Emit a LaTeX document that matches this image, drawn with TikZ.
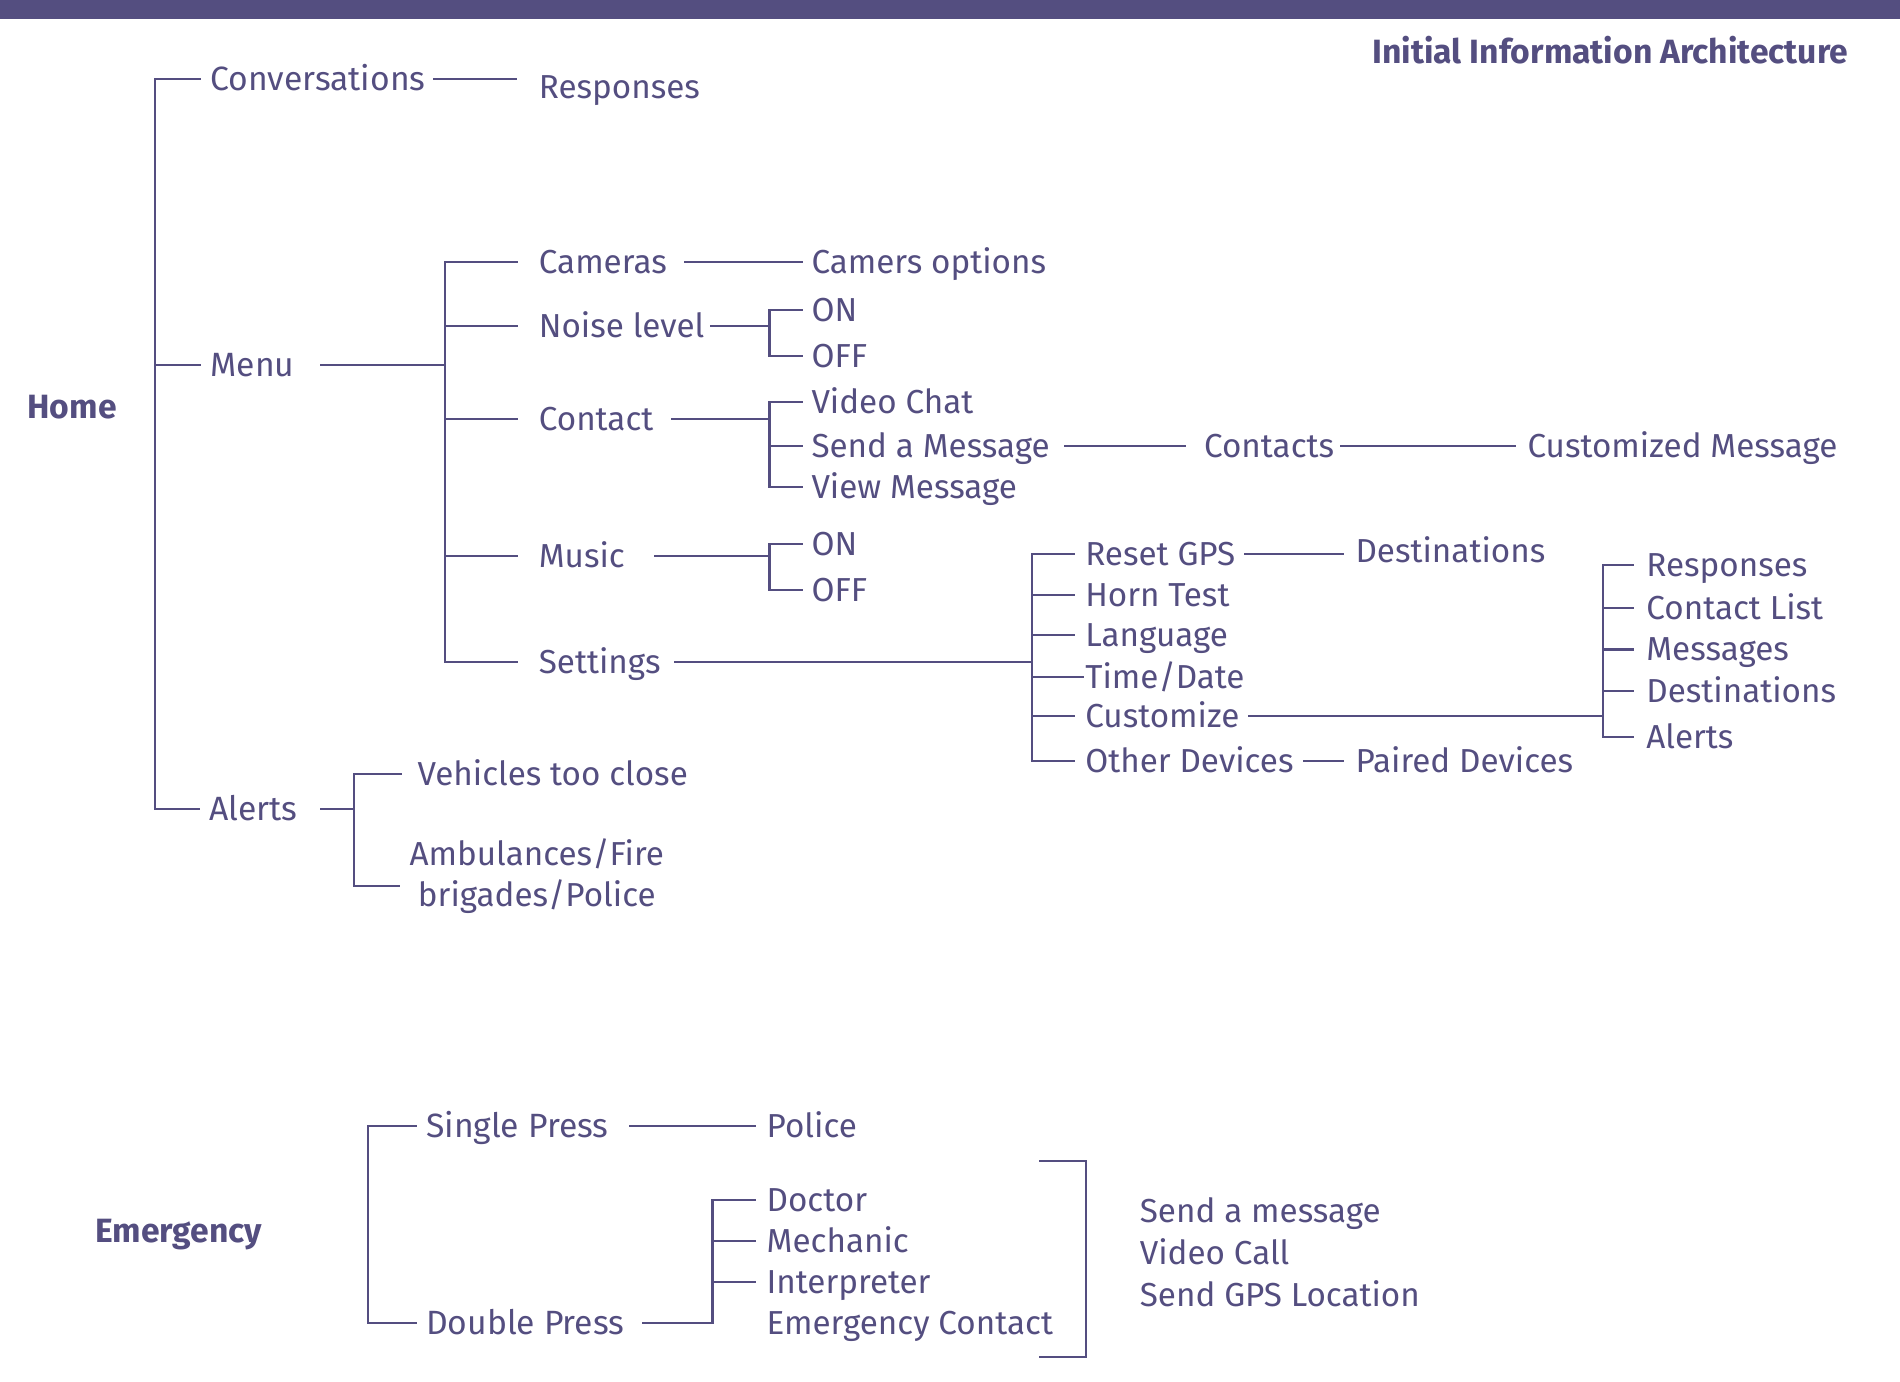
\documentclass[tikz,border=0pt]{standalone}
\usepackage{fontspec}
\setmainfont{Fira Sans}
\newfontfamily\headfont{Fira Sans}[UprightFont=* Bold]
\usetikzlibrary{positioning}
\definecolor{ink}{RGB}{84,78,128}

\begin{document}
\begin{tikzpicture}[x=0.01cm, y=-0.01cm,
  font=\fontsize{7.8pt}{9.7pt}\selectfont, text=ink,
  txt/.style={anchor=west, inner sep=0pt},
  leaf/.style={txt, text height=5.4pt, text depth=0pt},
  group/.style={leaf, font=\fontsize{7.9pt}{9.7pt}\selectfont},
  head/.style={leaf, font=\fontsize{7.9pt}{9.7pt}\headfont},
  link/.style={draw=ink, line width=0.5pt, line cap=rect}]
\useasboundingbox (0,0) rectangle (1568,1140);
\fill[ink] (0,0) rectangle (1568,16);
\node[head, anchor=east] (title) at (1526,43) {Initial Information Architecture};

% home
\node[head] (home) at (22,336) {Home};
\node[group] (conv) at (173,65) {Conversations};
\node[group] (menu) at (173,301) {Menu};
\node[group] (alerts) at (172,668) {Alerts};
\coordinate (homebar) at (128,0);
\draw[link] (homebar |- conv) -- (homebar |- alerts);
\foreach \n in {conv,menu,alerts}
  \draw[link, shorten >=0.08cm] (homebar |- \n) -- (\n.west);

\node[leaf] (resp) at (444,72) {Responses};
\draw[link, shorten <=0.06cm, shorten >=0.18cm] (conv.east) -- (conv.east -| resp.west);

% menu
\coordinate (menubar) at (367,0);
\node[leaf] (cam) at (444,216) {Cameras};
\node[leaf] (noise) at (444,269) {Noise level};
\node[leaf] (contact) at (444,346) {Contact};
\node[leaf] (music) at (444,459) {Music};
\node[leaf] (settings) at (444,546) {Settings};
\draw[link, shorten <=0.21cm] (menu.east) -- (menubar |- menu);
\draw[link] (menubar |- cam) -- (menubar |- settings);
\foreach \n in {cam,noise,contact,music,settings}
  \draw[link, shorten >=0.17cm] (menubar |- \n) -- (\n.west);

\node[leaf] (camopt) at (669,216) {Camers options};
\draw[link, shorten <=0.14cm, shorten >=0.07cm] (cam) -- (camopt);

% on/off and contact options
\coordinate (optbar) at (635,0);
\node[leaf] (noiseon) at (669,256) {ON};
\node[leaf] (noiseoff) at (669,294) {OFF};
\draw[link, shorten <=0.05cm] (noise.east) -- (optbar |- noise);
\draw[link] (optbar |- noiseon) -- (optbar |- noiseoff);
\foreach \n in {noiseon,noiseoff}
  \draw[link, shorten >=0.07cm] (optbar |- \n) -- (\n.west);

\node[leaf] (vchat) at (669,332) {Video Chat};
\node[leaf] (sendmsg) at (669,368) {Send a Message};
\node[leaf] (viewmsg) at (669,402) {View Message};
\draw[link, shorten <=0.15cm] (contact.east) -- (optbar |- contact);
\draw[link] (optbar |- vchat) -- (optbar |- viewmsg);
\foreach \n in {vchat,sendmsg,viewmsg}
  \draw[link, shorten >=0.07cm] (optbar |- \n) -- (\n.west);

\node[leaf] (contacts) at (993,368) {Contacts};
\node[leaf] (custmsg) at (1260,368) {Customized Message};
\draw[link, shorten <=0.12cm, shorten >=0.15cm] (sendmsg) -- (contacts);
\draw[link, shorten <=0.05cm, shorten >=0.10cm] (contacts) -- (custmsg);

\node[leaf] (musicon) at (669,449) {ON};
\node[leaf] (musicoff) at (669,487) {OFF};
\draw[link, shorten <=0.24cm] (music.east) -- (optbar |- music);
\draw[link] (optbar |- musicon) -- (optbar |- musicoff);
\foreach \n in {musicon,musicoff}
  \draw[link, shorten >=0.07cm] (optbar |- \n) -- (\n.west);

% settings
\coordinate (setbar) at (852,0);
\node[leaf] (reset) at (895,457) {Reset GPS};
\node[leaf] (horn) at (895,491) {Horn Test};
\node[leaf] (lang) at (895,524) {Language};
\node[leaf] (timedate) at (895,559) {Time/Date};
\node[leaf] (custom) at (895,591) {Customize};
\node[leaf] (other) at (895,628) {Other Devices};
\draw[link, shorten <=0.11cm] (settings.east) -- (setbar |- settings);
\draw[link] (setbar |- reset) -- (setbar |- other);
\foreach \n in {reset,horn,lang,custom,other}
  \draw[link, shorten >=0.09cm] (setbar |- \n) -- (\n.west);
\draw[link, shorten >=0.01cm] (setbar |- timedate) -- (timedate.west);

\node[leaf] (resetdest) at (1118,455) {Destinations};
\draw[link, shorten <=0.07cm, shorten >=0.10cm] (reset.east) -- (reset.east -| resetdest.west);
\node[leaf] (paired) at (1118,628) {Paired Devices};
\draw[link, shorten <=0.08cm, shorten >=0.10cm] (other) -- (paired);

\coordinate (custbar) at (1323,0);
\node[leaf] (cresp) at (1358,466) {Responses};
\node[leaf] (clist) at (1358,502) {Contact List};
\node[leaf] (cmsgs) at (1358,536) {Messages};
\node[leaf] (cdest) at (1358,570) {Destinations};
\node[leaf] (calerts) at (1358,608) {Alerts};
\draw[link, shorten <=0.07cm] (custom.east) -- (custbar |- custom);
\draw[link] (custbar |- cresp) -- (custbar |- calerts);
\foreach \n in {cresp,clist,cmsgs,cdest,calerts}
  \draw[link, shorten >=0.10cm] (custbar |- \n) -- (\n.west);

% alerts
\coordinate (alertbar) at (292,0);
\node[leaf] (vehicles) at (344,639) {Vehicles too close};
\node[txt, anchor=center, align=center] (amb) at (443,723) {Ambulances/Fire\\brigades/Police};
\coordinate (ambend) at ([yshift=-0.08cm]amb.west);
\draw[link, shorten <=0.19cm] (alerts.east) -- (alertbar |- alerts);
\draw[link] (alertbar |- vehicles) -- (alertbar |- ambend);
\draw[link, shorten >=0.13cm] (alertbar |- vehicles) -- (vehicles.west);
\draw[link, shorten >=0.08cm] (alertbar |- ambend) -- (ambend);

% emergency
\node[head] (emerg) at (78,1016) {Emergency};
\coordinate (embar) at (304,0);
\node[group] (single) at (351,929) {Single Press};
\node[group] (double) at (351,1092) {Double Press};
\draw[link] (embar |- single) -- (embar |- double);
\foreach \n in {single,double}
  \draw[link, shorten >=0.08cm] (embar |- \n) -- (\n.west);

\node[leaf] (police) at (632,929) {Police};
\draw[link, shorten <=0.17cm, shorten >=0.09cm] (single) -- (police);

\coordinate (pressbar) at (588,0);
\node[leaf] (doctor) at (632,990) {Doctor};
\node[leaf] (mech) at (632,1024) {Mechanic};
\node[leaf] (interp) at (632,1058) {Interpreter};
\node[leaf] (emcontact) at (632,1092) {Emergency Contact};
\draw[link, shorten <=0.15cm] (double.east) -- (pressbar |- double);
\draw[link] (pressbar |- doctor) -- (pressbar |- double);
\foreach \n in {doctor,mech,interp}
  \draw[link, shorten >=0.09cm] (pressbar |- \n) -- (\n.west);

\coordinate (grptop) at (858,958);
\coordinate (grpbot) at (858,1120);
\draw[link] (grptop) -- ++(38,0) |- (grpbot);

\node[leaf] (sendm) at (940,999) {Send a message};
\node[below=0.35cm of sendm.west, leaf] (vcall) {Video Call};
\node[below=0.35cm of vcall.west, leaf] (gps) {Send GPS Location};
\end{tikzpicture}
\end{document}
